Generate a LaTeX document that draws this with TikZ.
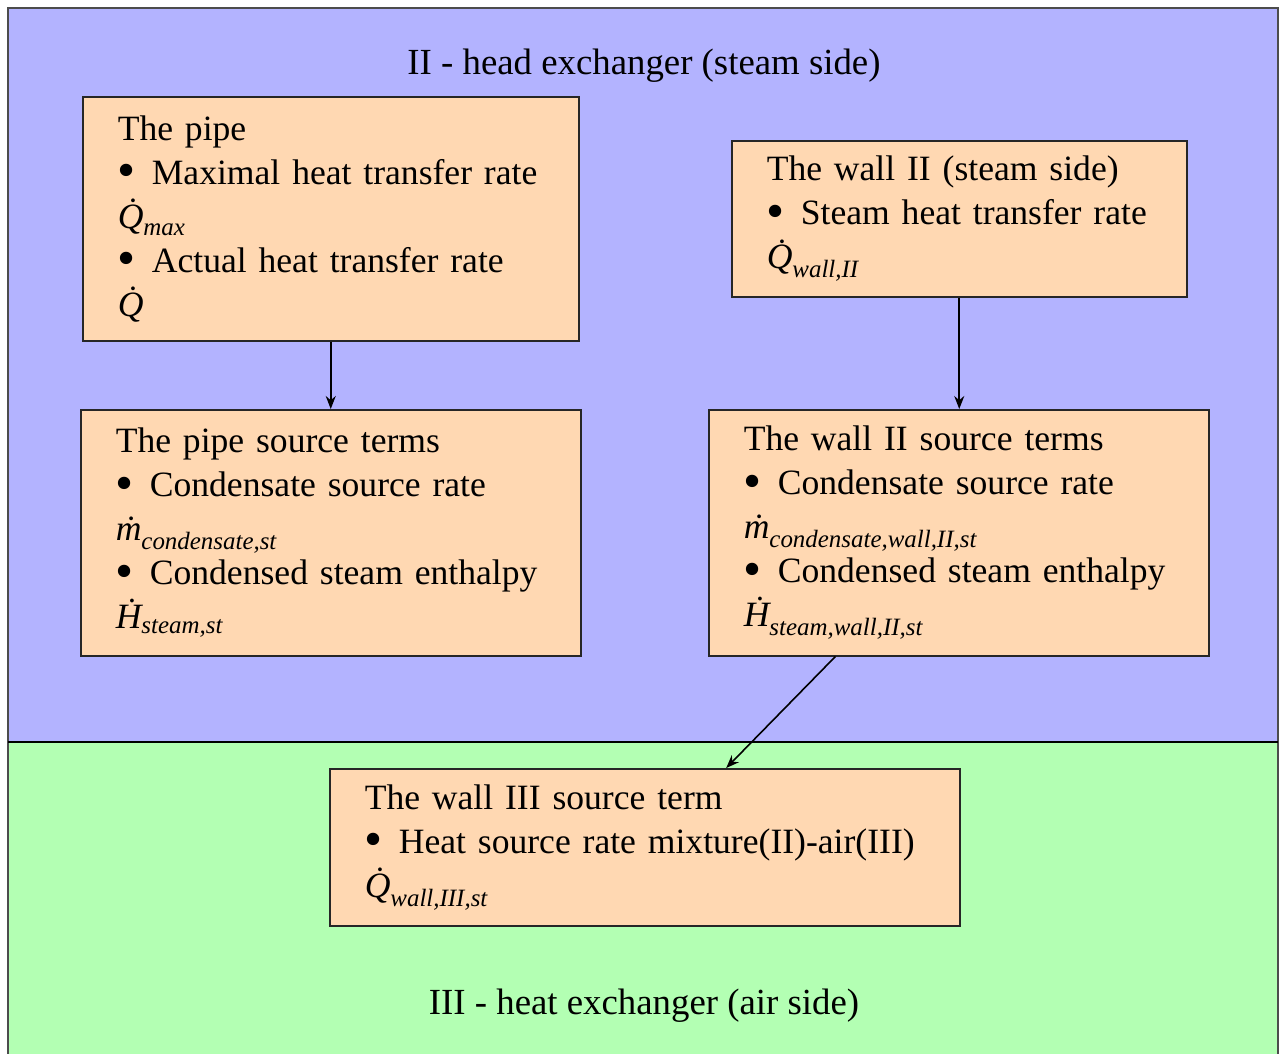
\documentclass[tikz,border=0pt]{standalone}
\usepackage{amsmath}
\usepackage{graphicx}
\usepackage{fontspec}
\setmainfont{Liberation Serif}
\usetikzlibrary{
    positioning,
    calc,
    arrows.meta
}
\definecolor{SteamBlue}{HTML}{B3B3FF}
\definecolor{AirGreen}{HTML}{B3FFB3}
\definecolor{BoxPeach}{HTML}{FFD8B2}
\newcommand{\ratevar}[2]{$\text{\itshape\.{#1}}_{\text{\itshape #2}}$}
\newcommand{\itemline}[1]{\mbox{\raisebox{-0.1em}{\scalebox{1.45}{\textbullet}}\hspace{0.45em}#1}}

\begin{document}
\begin{tikzpicture}[
        x=1pt, y=-1pt,
        termbox/.style={
            draw=black!85,
            line width=1.5pt,
            fill=BoxPeach,
            anchor=north west,
            align=left,
            inner xsep=35pt,
            inner ysep=0pt,
            font=\fontsize{35.6}{44}\selectfont
        },
        regiontitle/.style={font=\fontsize{36.8}{44}\selectfont},
        flow/.style={line width=1.6pt, -{Stealth[length=13pt,width=10pt]}}
    ]
    \clip (0,0) rectangle (1279,1053);
    \useasboundingbox (0,0) rectangle (1279,1053);
    % regions
    \fill[white] (0,0) rectangle (1279,1053);
    \fill[SteamBlue] (8,8) rectangle (1278,742);
    \fill[AirGreen] (8,742) rectangle (1278,1070);
    \draw[black!70, line width=2pt] (8,1070) -- (8,8) -- (1278,8) -- (1278,1070);
    \draw[black, line width=2pt] (8,742) -- (1278,742);

    \node[regiontitle] (steamtitle) at (644,66) {II - head exchanger (steam side)};
    \node[regiontitle] (airtitle) at (644,1006) {III - heat exchanger (air side)};

    % steam side
    \node[termbox, text width=426pt, minimum height=244pt] (pipe) at (82,96) {
        The pipe\\
        \itemline{Maximal heat transfer rate}\\
        \ratevar{Q}{max}\\
        \itemline{Actual heat transfer rate}\\
        $\text{\itshape\.{Q}}$
    };
    \node[termbox, text width=385pt, minimum height=156pt] (wallII) at (731,140) {
        The wall II (steam side)\\
        \itemline{Steam heat transfer rate}\\
        \ratevar{Q}{wall,II}
    };
    \node[termbox, text width=430pt, minimum height=246pt] (pipesrc) at (80,409) {
        The pipe source terms\\
        \itemline{Condensate source rate}\\
        \ratevar{m}{condensate,st}\\
        \itemline{Condensed steam enthalpy}\\
        \ratevar{H}{steam,st}
    };
    \node[termbox, text width=430pt, minimum height=246pt] (wallIIsrc) at (708,409) {
        The wall II source terms\\
        \itemline{Condensate source rate}\\
        \ratevar{m}{condensate,wall,II,st}\\
        \itemline{Condensed steam enthalpy}\\
        \ratevar{H}{steam,wall,II,st}
    };

    % air side
    \node[termbox, text width=560pt, minimum height=157pt] (wallIII) at (329,768) {
        The wall III source term\\
        \itemline{Heat source rate mixture(II)-air(III)}\\
        \ratevar{Q}{wall,III,st}
    };

    \draw[flow] (pipe) -- (pipesrc);
    \draw[flow] (wallII.south) -- (wallII.south |- wallIIsrc.north);
    \draw[flow] ($(wallIIsrc.south west)!0.254!(wallIIsrc.south east)$)
        -- ($(wallIII.north west)!0.629!(wallIII.north east)$);
\end{tikzpicture}
\end{document}
